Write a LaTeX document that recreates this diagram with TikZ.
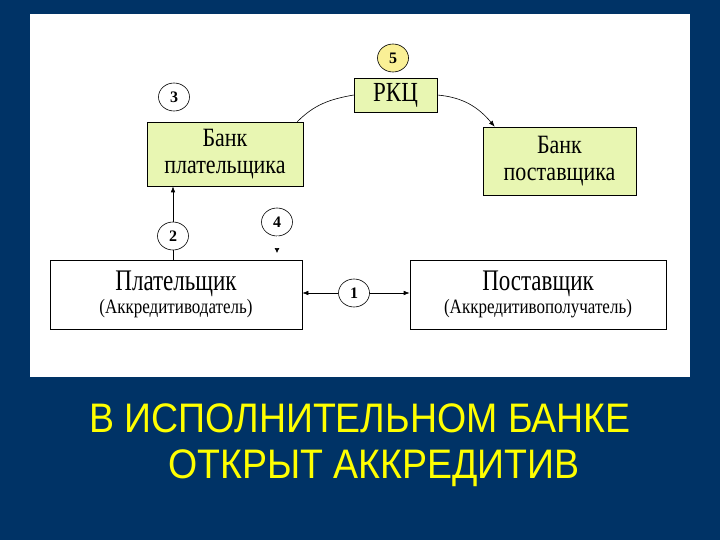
\documentclass[tikz,border=0pt]{standalone}
\usepackage{fontspec}
\usepackage{graphicx}
\setmainfont{Liberation Serif}
\newfontfamily\titlefont{Liberation Sans}
\usetikzlibrary{shapes.geometric,arrows.meta}
\definecolor{navy}{RGB}{0,51,102}
\definecolor{boxgreen}{RGB}{232,246,178}
\definecolor{numyellow}{RGB}{250,240,150}
\definecolor{titleyellow}{RGB}{255,255,0}
\newcommand{\tallt}[1]{\scalebox{1}[1.2]{#1}}
\tikzset{
  bankbox/.style={draw=black, line width=0.6pt, fill=boxgreen, rectangle, inner sep=0pt, align=center,
    font=\fontsize{22}{27}\selectfont},
  partybox/.style={draw=black, line width=0.6pt, fill=white, rectangle, inner sep=0pt, align=center},
  numcirc/.style={draw=black, line width=0.6pt, fill=white, ellipse, inner sep=0pt,
    minimum width=31pt, minimum height=28pt, font=\bfseries\fontsize{16}{16}\selectfont},
  arr/.style={line width=0.6pt, -{Latex[length=6pt,width=4.5pt]}},
  plain/.style={line width=0.6pt}
}
\begin{document}
\begin{tikzpicture}[x=1pt,y=-1pt]
\fill[navy] (0,0) rectangle (720,540);
\useasboundingbox (0,0) rectangle (720,540);
\fill[white] (30,14) rectangle (690,377);

% boxes
\node[bankbox, minimum width=156pt, minimum height=64pt] (bp) at (225,154) {\tallt{Банк}\\\tallt{плательщика}};
\node[bankbox, minimum width=83pt, minimum height=34pt, font=\fontsize{23}{27}\selectfont] (rkc) at (395.5,95) {\tallt{РКЦ}};
\node[bankbox, minimum width=153pt, minimum height=68pt] (bs) at (559.5,161) {\tallt{Банк}\\\tallt{поставщика}};
\node[partybox, minimum width=252pt, minimum height=69pt] (pl) at (176,294.5)
  {{\fontsize{23}{26}\selectfont\scalebox{1}[1.3]{Плательщик}}\\[1pt]{\fontsize{17}{20}\selectfont\scalebox{1}[1.2]{(Аккредитиводатель)}}};
\node[partybox, minimum width=256pt, minimum height=69pt] (ps) at (538,294.5)
  {{\fontsize{23}{26}\selectfont\scalebox{1}[1.3]{Поставщик}}\\[1pt]{\fontsize{17}{20}\selectfont\scalebox{1}[1.2]{(Аккредитивополучатель)}}};

% number circles
\node[numcirc, fill=numyellow] (c5) at (393,58) {5};
\node[numcirc] (c3) at (174,97) {3};
\node[numcirc] (c2) at (173,236) {2};
\node[numcirc] (c4) at (277,222) {4};
\node[numcirc] (c1) at (354,293) {1};

% connectors
\draw[plain] ([xshift=-6pt]bp.north east) to[out=45,in=190] (rkc.west);
\draw[arr] (rkc.east) to[out=-5,in=130] ([xshift=12pt]bs.north west);
\draw[plain] (pl.north -| c2) -- (c2.south);
\draw[arr] (c2.north) -- (bp.south -| c2);
\draw[arr] (c1.west) -- (pl.east |- c1);
\draw[arr] (c1.east) -- (ps.west |- c1);
\coordinate (tip4) at (277,253);
\draw[line width=0.6pt, draw=white, -{Latex[length=5pt,width=5pt,black]}] (c4.south) -- (tip4);

% title
\node[font=\titlefont\fontsize{37.5}{46}\selectfont, text=titleyellow, align=center, anchor=north] (title) at (360,400)
  {\scalebox{1}[1.1]{В ИСПОЛНИТЕЛЬНОМ БАНКЕ}\\\hspace*{28pt}\scalebox{1}[1.1]{ОТКРЫТ АККРЕДИТИВ}};
\end{tikzpicture}
\end{document}
